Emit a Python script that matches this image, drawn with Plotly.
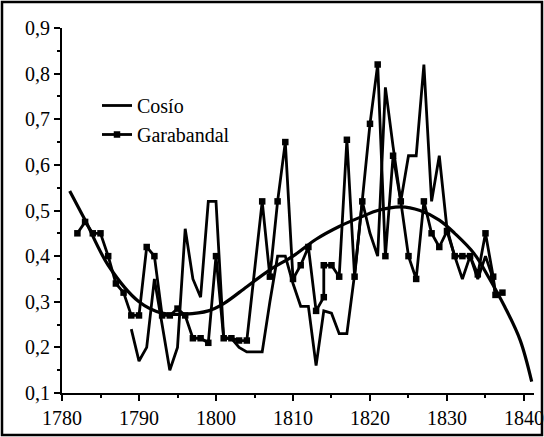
import plotly.graph_objects as go

# ---- data ----
cosio_years = [1789, 1790, 1791, 1792, 1793, 1794, 1795, 1796, 1797, 1798, 1799, 1800,
               1801, 1802, 1803, 1804, 1805, 1806, 1807, 1808, 1809, 1810, 1811, 1812,
               1813, 1814, 1815, 1816, 1817, 1818, 1819, 1820, 1821, 1822, 1823, 1824,
               1825, 1826, 1827, 1828, 1829, 1830, 1831, 1832, 1833, 1834, 1835, 1836, 1836.3]
cosio_values = [0.24, 0.17, 0.20, 0.35, 0.25, 0.15, 0.20, 0.46, 0.35, 0.31, 0.52, 0.52,
                0.22, 0.22, 0.20, 0.19, 0.19, 0.19, 0.30, 0.40, 0.40, 0.34, 0.29, 0.29,
                0.16, 0.28, 0.275, 0.23, 0.23, 0.36, 0.52, 0.45, 0.40, 0.77, 0.64, 0.52,
                0.62, 0.62, 0.82, 0.52, 0.62, 0.46, 0.40, 0.35, 0.40, 0.35, 0.40, 0.35, 0.31]

garab_years = [1782, 1783, 1784, 1785, 1786, 1787, 1788, 1789, 1790, 1791, 1792, 1793,
               1794, 1795, 1796, 1797, 1798, 1799, 1800, 1801, 1802, 1803, 1804, 1806,
               1807, 1808, 1809, 1810, 1811, 1812, 1813, 1814, 1814, 1815, 1816, 1817,
               1818, 1819, 1820, 1821, 1822, 1823, 1824, 1825, 1826, 1827, 1828, 1829,
               1830, 1831, 1832, 1833, 1834, 1835, 1836, 1836.3, 1837.2]
garab_values = [0.45, 0.475, 0.45, 0.45, 0.40, 0.34, 0.32, 0.27, 0.27, 0.42, 0.40, 0.27,
                0.27, 0.285, 0.27, 0.22, 0.22, 0.21, 0.40, 0.22, 0.22, 0.215, 0.215, 0.52,
                0.355, 0.52, 0.65, 0.35, 0.38, 0.42, 0.28, 0.31, 0.38, 0.38, 0.355, 0.655,
                0.355, 0.52, 0.69, 0.82, 0.40, 0.62, 0.52, 0.40, 0.35, 0.52, 0.45, 0.42,
                0.455, 0.40, 0.40, 0.40, 0.36, 0.45, 0.355, 0.315, 0.32]

trend_years = [1781, 1783, 1786, 1790, 1793, 1796, 1799, 1801, 1804, 1807, 1810, 1813,
               1816, 1819, 1821, 1824, 1826.5, 1829, 1831, 1833.5, 1835.5, 1837.5, 1839.5, 1841]
trend_values = [0.543, 0.479, 0.38, 0.30, 0.275, 0.273, 0.28, 0.296, 0.333, 0.37, 0.40, 0.437,
                0.465, 0.487, 0.50, 0.508, 0.50, 0.479, 0.45, 0.406, 0.351, 0.289, 0.216, 0.125]

x_ticks = [1780, 1790, 1800, 1810, 1820, 1830, 1840]
x_labels = ["1780", "1790", "1800", "1810", "1820", "1830", "1840"]
y_ticks = [0.1, 0.2, 0.3, 0.4, 0.5, 0.6, 0.7, 0.8, 0.9]
y_labels = ["0,1", "0,2", "0,3", "0,4", "0,5", "0,6", "0,7", "0,8", "0,9"]

FONT = "Liberation Serif, DejaVu Serif, serif"

fig = go.Figure()
fig.add_trace(go.Scatter(x=trend_years, y=trend_values, mode="lines",
                         line=dict(color="black", width=3.2, shape="spline", smoothing=1.0),
                         showlegend=False, hoverinfo="skip"))
fig.add_trace(go.Scatter(x=cosio_years, y=cosio_values, mode="lines", name="Cosío",
                         line=dict(color="black", width=2.8)))
fig.add_trace(go.Scatter(x=garab_years, y=garab_values, mode="lines+markers", name="Garabandal",
                         line=dict(color="black", width=2.8),
                         marker=dict(symbol="square", size=6.5, color="black")))

L, R, T, B = 62, 10, 28, 44
W, H = 544, 437
pw, ph = W - L - R, H - T - B

def px(xp):
    return (xp - L) / pw

def py(yp):
    return (H - B - yp) / ph

fig.update_layout(
    width=W, height=H, autosize=False,
    margin=dict(l=L, r=R, t=T, b=B, pad=0, autoexpand=False),
    paper_bgcolor="white", plot_bgcolor="white",
    font=dict(family=FONT, size=20, color="black"),
    legend=dict(x=px(97), y=py(86), xanchor="left", yanchor="top",
                bgcolor="rgba(0,0,0,0)", font=dict(family=FONT, size=20),
                tracegroupgap=0, itemwidth=30),
    shapes=[dict(type="rect", xref="paper", yref="paper", layer="above",
                 x0=px(2), x1=px(542), y0=py(435), y1=py(2),
                 line=dict(color="black", width=2.5), fillcolor="rgba(0,0,0,0)")],
)
fig.update_xaxes(range=[1780, 1841.3], showgrid=False, zeroline=False, automargin=False,
                 showline=True, linecolor="black", linewidth=1.8,
                 tickmode="array", tickvals=x_ticks, ticktext=x_labels,
                 ticks="outside", ticklen=6, tickwidth=1.8, tickcolor="black",
                 minor=dict(dtick=5, ticks="outside", ticklen=3, tickwidth=1.5, tickcolor="black"),
                 tickfont=dict(family=FONT, size=20))
fig.update_yaxes(range=[0.1, 0.9], showgrid=False, zeroline=False, automargin=False,
                 showline=True, linecolor="black", linewidth=1.8,
                 tickmode="array", tickvals=y_ticks, ticktext=y_labels,
                 ticks="outside", ticklen=6, tickwidth=1.8, tickcolor="black",
                 minor=dict(dtick=0.05, tick0=0.1, ticks="outside", ticklen=3, tickwidth=1.5, tickcolor="black"),
                 tickfont=dict(family=FONT, size=20))

fig.write_html("out.html",
               config={"responsive": False, "displayModeBar": False},
               post_script="document.body.style.margin='0';document.body.style.overflow='hidden';"
                           "document.documentElement.style.overflow='hidden';")
